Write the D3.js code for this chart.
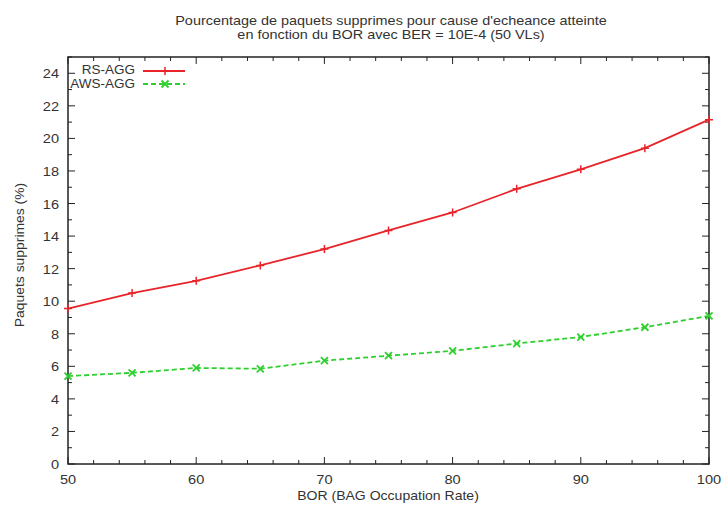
<!DOCTYPE html>
<html><head><meta charset="utf-8">
<script src="https://cdn.jsdelivr.net/npm/d3@7"></script>
<style>body{margin:0;background:#fff}text{font-family:"Liberation Sans",Arial,sans-serif;fill:#333}</style>
</head><body><svg id="c" width="723" height="507"></svg>
<script>
const bor = [50,55,60,65,70,75,80,85,90,95,100];
const rsAgg = [9.55,10.5,11.25,12.2,13.2,14.35,15.45,16.9,18.1,19.4,21.15];
const awsAgg = [5.4,5.6,5.9,5.85,6.35,6.65,6.95,7.4,7.8,8.4,9.1];
const xTicks = [50,60,70,80,90,100];
const yTicks = [0,2,4,6,8,10,12,14,16,18,20,22,24];
const seriesNames = ["RS-AGG","AWS-AGG"];
const titleLines = ["Pourcentage de paquets supprimes pour cause d'echeance atteinte","en fonction du BOR avec BER = 10E-4 (50 VLs)"];

const svg = d3.select("#c");
const L=68,R=709,T=57,B=464;
const x = d3.scaleLinear().domain([50,100]).range([L,R]);
const y = d3.scaleLinear().domain([0,25]).range([B,T]);
const ax = "#222";
const FS = 13;

function txt(px,py,s,anchor,sx,rot){
  return svg.append("text")
    .attr("transform",`translate(${px},${py})${rot?` rotate(${rot})`:""} scale(${sx||1.08},1)`)
    .attr("text-anchor",anchor||"middle").attr("font-size",FS).text(s);
}

// frame
svg.append("rect").attr("x",L).attr("y",T).attr("width",R-L).attr("height",B-T)
  .attr("fill","none").attr("stroke",ax).attr("stroke-width",1.5);

// ticks inward, mirrored
const xMinor = d3.range(50,100.01,2);
const yMinor = d3.range(0,25.01,1);
const g = svg.append("g").attr("stroke",ax).attr("stroke-width",1);
xMinor.forEach(v=>{
  const major = xTicks.includes(v), len = major?7:4;
  g.append("line").attr("x1",x(v)).attr("x2",x(v)).attr("y1",B).attr("y2",B-len);
  g.append("line").attr("x1",x(v)).attr("x2",x(v)).attr("y1",T).attr("y2",T+len);
});
yMinor.forEach(v=>{
  const major = yTicks.includes(v), len = major?7:4;
  g.append("line").attr("y1",y(v)).attr("y2",y(v)).attr("x1",L).attr("x2",L+len);
  g.append("line").attr("y1",y(v)).attr("y2",y(v)).attr("x1",R).attr("x2",R-len);
});

// tick labels
xTicks.forEach(d=>txt(x(d),484,d,"middle",1.12));
yTicks.forEach(d=>txt(L-9,y(d)+5,d,"end",1.12));

// titles
txt(391,25,titleLines[0],"middle",1.11);
txt(391,39,titleLines[1],"middle",1.11);
txt(388,500,"BOR (BAG Occupation Rate)","middle",1.08);
txt(24,255,"Paquets supprimes (%)","middle",1.07,-90);

// lines
const line = d3.line().x((d,i)=>x(bor[i])).y(d=>y(d));
const red = "#e8242a", green = "#2ed02e";
svg.append("path").datum(rsAgg).attr("d",line).attr("fill","none").attr("stroke",red).attr("stroke-width",1.8);
svg.append("path").datum(awsAgg).attr("d",line).attr("fill","none").attr("stroke",green).attr("stroke-width",1.8).attr("stroke-dasharray","5,3");

function plus(sel,cx,cy,col){
  sel.append("path").attr("d",`M${cx-4},${cy}H${cx+4}M${cx},${cy-4}V${cy+4}`).attr("stroke",col).attr("stroke-width",1.5);
}
function cross(sel,cx,cy,col){
  sel.append("path").attr("d",`M${cx-3.5},${cy-3.5}L${cx+3.5},${cy+3.5}M${cx-3.5},${cy+3.5}L${cx+3.5},${cy-3.5}`).attr("stroke",col).attr("stroke-width",1.8);
}
const mk = svg.append("g");
rsAgg.forEach((v,i)=>plus(mk,x(bor[i]),y(v),red));
awsAgg.forEach((v,i)=>cross(mk,x(bor[i]),y(v),green));

// legend
txt(135,74,seriesNames[0],"end",1.04);
txt(135,88,seriesNames[1],"end",1.04);
const lg = svg.append("g");
lg.append("line").attr("x1",143).attr("x2",185).attr("y1",71).attr("y2",71).attr("stroke",red).attr("stroke-width",1.8);
plus(lg,165,71,red);
lg.append("line").attr("x1",143).attr("x2",185).attr("y1",84).attr("y2",84).attr("stroke",green).attr("stroke-width",1.8).attr("stroke-dasharray","5,3");
cross(lg,165,84,green);
</script></body></html>
